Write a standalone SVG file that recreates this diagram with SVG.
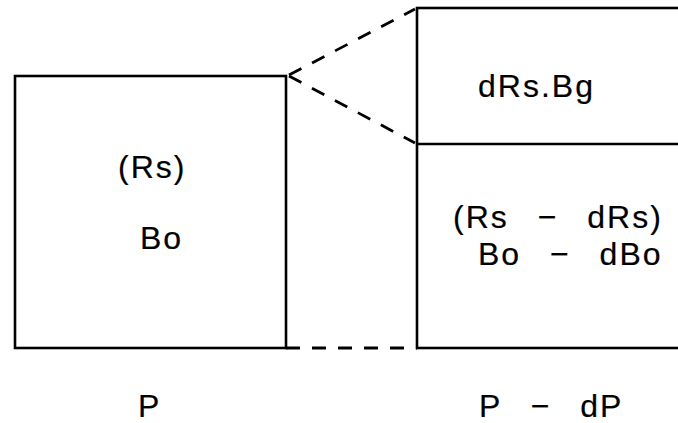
<svg xmlns="http://www.w3.org/2000/svg" width="678" height="423" viewBox="0 0 678 423">
<style>
.box{fill:none;stroke:#000;stroke-width:2.6}
.dash{fill:none;stroke:#000;stroke-width:2.8;stroke-dasharray:14 12}
.t{font-family:"Liberation Sans",Arial,sans-serif;font-size:32px;fill:#000;stroke:#000;stroke-width:0.2;letter-spacing:2px;word-spacing:18px}
</style>
<rect width="678" height="423" fill="#fff"/>
<g id="state-P">
<rect class="box" x="15" y="76" width="271" height="272"/>
<text class="t" x="118" y="178">(Rs)</text>
<text class="t" x="140" y="249">Bo</text>
</g>
<g id="state-P-dP">
<rect class="box" x="417" y="8" width="300" height="340"/>
<line class="box" x1="417" y1="144" x2="678" y2="144"/>
<text class="t" x="478" y="97">dRs.Bg</text>
<text class="t" x="453" y="228">(Rs − dRs)</text>
<text class="t" x="478" y="265">Bo − dBo</text>
</g>
<g id="connectors">
<line class="dash" x1="289" y1="75" x2="415" y2="9"/>
<line class="dash" x1="289" y1="76" x2="415" y2="143"/>
<line class="dash" x1="286" y1="348" x2="417" y2="348" stroke-dasharray="14 16"/>
</g>
<g id="labels">
<text class="t" x="138" y="417">P</text>
<text class="t" x="479" y="417">P − dP</text>
</g>
</svg>
